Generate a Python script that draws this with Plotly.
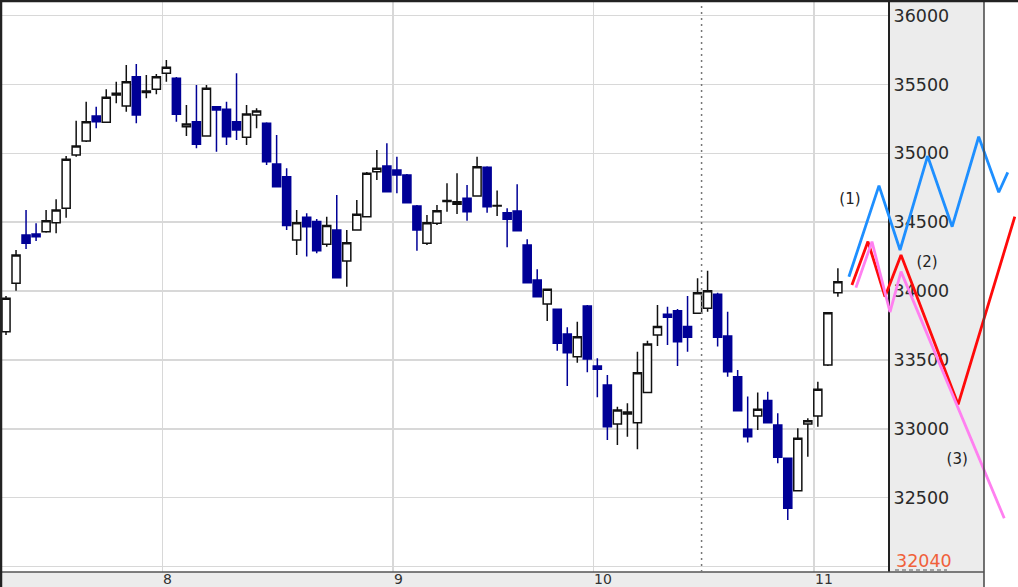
import pandas as pd
import plotly.graph_objects as go

# ---------------- data ----------------
# trading days shown (categories); x positions are the day index
trading_days = [d for d in pd.bdate_range("2023-07-10", "2023-11-03") if d != pd.Timestamp("2023-09-04")]
month_labels = ["8", "9", "10", "11"]

open_ = [33705, 34057, 34407, 34414, 34431, 34496, 34601, 34988, 35089, 35271,
         35225, 35423, 35343, 35556, 35441, 35464, 35581, 35544, 35193, 35229,
         35126, 35338, 35319, 35229, 35116, 35278, 35218, 34922, 34830, 34371,
         34536, 34504, 34340, 34443, 34218, 34443, 34540, 34866, 34908, 34879,
         34842, 34618, 34347, 34492, 34650, 34630, 34673, 34690, 34898, 34617,
         34569, 34581, 34334, 34080, 33906, 33868, 33689, 33524, 33892, 33456,
         33318, 33036, 33108, 33045, 33263, 33681, 33832, 33858, 33742, 33839,
         33875, 33977, 33674, 33379, 32997, 33094, 33205, 33028, 32787, 32551,
         33036, 33094, 33464, 33988]
high = [33964, 34298, 34589, 34492, 34589, 34666, 34980, 35237, 35374, 35338,
        35464, 35520, 35641, 35648, 35568, 35575, 35677, 35554, 35350, 35496,
        35496, 35343, 35374, 35580, 35350, 35327, 35225, 35133, 34891, 34589,
        34564, 34523, 34540, 34697, 34443, 34661, 34864, 35024, 35073, 34975,
        34850, 34625, 34552, 34625, 34782, 34855, 34770, 34975, 34905, 34729,
        34601, 34775, 34376, 34158, 34015, 33872, 33737, 33778, 33899, 33512,
        33391, 33161, 33186, 33560, 33640, 33899, 33887, 33870, 33964, 34093,
        34148, 33988, 33850, 33427, 33234, 33263, 33270, 33113, 32790, 33004,
        33077, 33342, 33848, 34165]
low = [33681, 34003, 34305, 34363, 34424, 34419, 34533, 34975, 35082, 35181,
       35220, 35363, 35302, 35218, 35399, 35428, 35520, 35229, 35126, 35036,
       35122, 35012, 35060, 35097, 35060, 35181, 34915, 34755, 34443, 34262,
       34250, 34274, 34322, 34095, 34032, 34440, 34535, 34806, 34719, 34710,
       34638, 34293, 34334, 34480, 34576, 34559, 34511, 34688, 34569, 34545,
       34318, 34435, 34058, 33955, 33783, 33567, 33311, 33480, 33411, 33229,
       32919, 32883, 32943, 32852, 33260, 33602, 33609, 33456, 33560, 33835,
       33850, 33597, 33379, 33130, 32900, 32992, 33042, 32750, 32339, 32548,
       32798, 33016, 33456, 33959]
close = [33948, 34262, 34347, 34395, 34511, 34589, 34957, 35053, 35229, 35229,
         35406, 35435, 35520, 35278, 35452, 35556, 35624, 35283, 35213, 35065,
         35472, 35314, 35120, 35169, 35285, 35307, 34939, 34758, 34475, 34496,
         34467, 34293, 34475, 34097, 34351, 34557, 34855, 34891, 34721, 34842,
         34641, 34443, 34496, 34583, 34658, 34649, 34576, 34903, 34612, 34621,
         34521, 34438, 34061, 33959, 34013, 33621, 33553, 33669, 33507, 33432,
         33016, 33137, 33122, 33408, 33616, 33742, 33810, 33633, 33665, 33988,
         34003, 33665, 33415, 33132, 32943, 33142, 33045, 32794, 32424, 32932,
         33059, 33288, 33843, 34068]

# projection paths (x in trading-day index units, continuing after the last candle)
proj1_x = [84.1, 87.1, 89.2, 91.95, 94.4, 97.05, 99.05, 99.95]
proj1_y = [34104, 34765, 34298, 34980, 34467, 35120, 34717, 34862]
proj2_x = [84.4, 86.0, 87.7, 89.3, 95.0, 100.65]
proj2_y = [34044, 34359, 33959, 34262, 33177, 34540]
proj3_x = [84.8, 86.4, 88.2, 89.3, 99.6]
proj3_y = [34025, 34359, 33848, 34141, 32351]
proj_labels = ["(1)", "(2)", "(3)"]
proj_label_x = [84.2, 91.9, 94.9]
proj_label_y = [34661, 34204, 32774]

y_grid = [32000, 32500, 33000, 33500, 34000, 34500, 35000, 35500, 36000]
y_tick_text = ["", "32500", "33000", "33500", "34000", "34500", "35000", "35500", "36000"]
low_mark_value = 32040
marker_index = 69.4

# ---------------- layout geometry ----------------
W, H = 1018, 587
ML, MR, MT, MB = 2, 2, 2, 15
PW = W - ML - MR
PH = H - MT - MB
main_right_px = 888
band_right_px = 984
d1 = (main_right_px - ML) / PW
band_r = (band_right_px - ML) / PW
x_lo = -0.4
px_per_day = (main_right_px - ML) / 88.4
x_hi_main = x_lo + (main_right_px - ML) / px_per_day
x_hi_full = x_lo + PW / px_per_day
y_range = [31961, 36098]

idx = list(range(len(close)))
month_starts = [i for i in range(1, len(trading_days)) if trading_days[i].month != trading_days[i - 1].month]
month_grid = [i - 0.4 for i in month_starts]

fig = go.Figure()

fig.add_trace(go.Candlestick(
    x=idx, open=open_, high=high, low=low, close=close,
    increasing=dict(line=dict(color="#111111", width=1.5), fillcolor="#ffffff"),
    decreasing=dict(line=dict(color="#000096", width=1.5), fillcolor="#000096"),
    whiskerwidth=0, showlegend=False, xaxis="x", yaxis="y", hoverinfo="skip",
))

for xs, ys, col in [(proj1_x, proj1_y, "#1e8fff"), (proj2_x, proj2_y, "#ff0a0a"), (proj3_x, proj3_y, "#ff80f0")]:
    fig.add_trace(go.Scatter(x=xs, y=ys, mode="lines", line=dict(color=col, width=2.8),
                             xaxis="x2", yaxis="y2", showlegend=False, hoverinfo="skip"))

fig.add_trace(go.Scatter(x=proj_label_x, y=proj_label_y, mode="text", text=proj_labels,
                         textfont=dict(family="DejaVu Sans", size=15, color="#222222"),
                         xaxis="x2", yaxis="y2", showlegend=False, hoverinfo="skip"))

shapes = [
    # right gray band
    dict(type="rect", xref="paper", yref="paper", x0=d1, x1=band_r, y0=0, y1=1,
         fillcolor="#ececec", line=dict(width=0), layer="below"),
    # bottom gray strip
    dict(type="rect", xref="paper", yref="paper", x0=-ML / PW, x1=band_r, y0=-MB / PH, y1=0,
         fillcolor="#ececec", line=dict(width=0), layer="below"),
    # band right border
    dict(type="line", xref="paper", yref="paper", x0=band_r, x1=band_r, y0=-MB / PH, y1=1,
         line=dict(color="#444444", width=1.5)),
    # bottom axis line
    dict(type="line", xref="paper", yref="paper", x0=-ML / PW, x1=band_r, y0=0, y1=0,
         line=dict(color="#555555", width=1.5)),
    # frame top/left
    dict(type="line", xref="paper", yref="paper", x0=-ML / PW, x1=1 + MR / PW, y0=1 + 1 / PH, y1=1 + 1 / PH,
         line=dict(color="#222222", width=2.5)),
    dict(type="line", xref="paper", yref="paper", x0=-1 / PW, x1=-1 / PW, y0=-MB / PH, y1=1 + MT / PH,
         line=dict(color="#222222", width=2.5)),
    # dotted marker
    dict(type="line", xref="x", yref="paper", x0=marker_index, x1=marker_index, y0=0, y1=1,
         line=dict(color="#777777", width=1.5, dash="2px,4px")),
    # underline of low label
    dict(type="line", xref="paper", yref="paper", x0=(895 - ML) / PW, x1=(947 - ML) / PW,
         y0=(MT + PH - 570) / PH, y1=(MT + PH - 570) / PH,
         line=dict(color="#555555", width=1.2, dash="4px,3px")),
]

annotations = [dict(x=g, y=0, xref="x", yref="paper", text=lab, showarrow=False,
                    xanchor="left", yanchor="top", yshift=3, xshift=-1,
                    font=dict(family="DejaVu Sans", size=14, color="#333333"))
               for g, lab in zip(month_grid, month_labels)]
annotations.append(dict(x=(894 - ML) / PW, y=low_mark_value, xref="paper", yref="y", text=str(low_mark_value),
                        showarrow=False, xanchor="left", yanchor="middle",
                        font=dict(family="DejaVu Sans", size=17.5, color="#f0603a")))

fig.update_layout(
    width=W, height=H,
    margin=dict(l=ML, r=MR, t=MT, b=MB, pad=0),
    paper_bgcolor="#ffffff", plot_bgcolor="rgba(0,0,0,0)",
    boxgap=0.15, boxgroupgap=0.05,
    xaxis=dict(domain=[0, d1], range=[x_lo, x_hi_main], tickvals=month_grid, showticklabels=False,
               showgrid=True, gridcolor="#d8d8d8", gridwidth=1.5, zeroline=False, showline=False,
               ticks="", rangeslider=dict(visible=False), fixedrange=True),
    yaxis=dict(domain=[0, 1], range=y_range, side="right", anchor="x", tickvals=y_grid, ticktext=y_tick_text,
               showgrid=True, gridcolor="#d8d8d8", gridwidth=1.5, zeroline=False,
               showline=True, linecolor="#222222", linewidth=2, ticks="",
               tickfont=dict(family="DejaVu Sans", size=17.5, color="#2a2a2a")),
    xaxis2=dict(domain=[0, 1], range=[x_lo, x_hi_full], anchor="y2", visible=False, fixedrange=True),
    yaxis2=dict(domain=[0, 1], range=y_range, anchor="x2", visible=False),
    shapes=shapes, annotations=annotations,
    font=dict(family="DejaVu Sans"),
)

fig.write_html("out.html", config={"displayModeBar": False, "staticPlot": True},
               post_script="document.body.style.margin='0';document.body.style.overflow='hidden';")
